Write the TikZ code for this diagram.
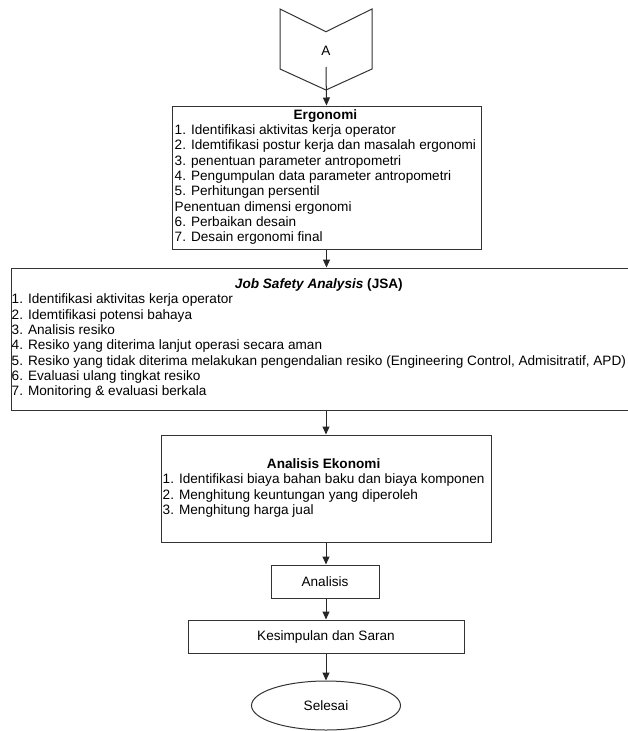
\documentclass[tikz,border=0pt]{standalone}
\usepackage{fontspec}
\setmainfont{Liberation Sans}
\usetikzlibrary{arrows.meta,shapes.geometric}
\begin{document}
\begin{tikzpicture}[x=1pt,y=-1pt,
  box/.style={draw=black!80, line width=1pt, rectangle, inner sep=0pt, fill=white},
  txt/.style={inner sep=0pt, font=\fontsize{13.6}{15.3}\selectfont, text=black},
  arr/.style={draw=black!85, line width=1pt, -{Triangle[length=8pt,width=7pt]}},
]
\useasboundingbox (0,0) rectangle (628,731);

% off-page connector
\draw[draw=black!80, line width=1pt, line join=miter]
  (280,9) -- (326,31.7) -- (372,9) -- (372,69) -- (326,90) -- (280,69) -- cycle;
\node[txt] (A) at (326,51) {A};
\coordinate (aout) at (326,67);

% Ergonomi
\node[box, minimum width=309pt, minimum height=143pt] (ergo) at (326.5,177.5) {};
\node[txt, anchor=west] (ergot) at ([xshift=3pt]ergo.west) {%
\begin{tabular}{@{}l@{}}
\multicolumn{1}{@{}c@{}}{\textbf{Ergonomi}}\\
1. Identifikasi aktivitas kerja operator\\
2. Idemtifikasi postur kerja dan masalah ergonomi\\
3. penentuan parameter antropometri\\
4. Pengumpulan data parameter antropometri\\
5. Perhitungan persentil\\
Penentuan dimensi ergonomi\\
6. Perbaikan desain\\
7. Desain ergonomi final
\end{tabular}};

% JSA
\node[box, minimum width=630pt, minimum height=142pt] (jsa) at (326,339) {};
\node[txt, anchor=west] (jsat) at ([xshift=1pt]jsa.west) {%
\begin{tabular}{@{}l@{}}
\multicolumn{1}{@{}c@{}}{\textbf{\textit{Job Safety Analysis} (JSA)}}\\
1. Identifikasi aktivitas kerja operator\\
2. Idemtifikasi potensi bahaya\\
3. Analisis resiko\\
4. Resiko yang diterima lanjut operasi secara aman\\
5. Resiko yang tidak diterima melakukan pengendalian resiko (Engineering Control, Admisitratif, APD)\\
6. Evaluasi ulang tingkat resiko\\
7. Monitoring \& evaluasi berkala
\end{tabular}};

% Analisis Ekonomi
\node[box, minimum width=330pt, minimum height=107pt] (eko) at (326,488.5) {};
\node[txt, anchor=west] (ekot) at ([xshift=2pt]eko.west) {%
\begin{tabular}{@{}l@{}}
\multicolumn{1}{@{}c@{}}{\textbf{Analisis Ekonomi}}\\
1. Identifikasi biaya bahan baku dan biaya komponen\\
2. Menghitung keuntungan yang diperoleh\\
3. Menghitung harga jual
\end{tabular}};

% Analisis
\node[box, txt, draw=black!80, line width=1pt, minimum width=108pt, minimum height=33pt] (anl) at (325,581.5) {Analisis};

% Kesimpulan
\node[box, txt, draw=black!80, line width=1pt, minimum width=276pt, minimum height=33pt] (kes) at (326,636.5) {Kesimpulan dan Saran};

% Selesai
\node[txt, ellipse, draw=black!80, line width=1pt, minimum width=149pt, minimum height=49pt] (end) at (326,705.5) {Selesai};

% connectors
\draw[arr] (aout) -- (ergo.north);
\draw[arr] (ergo.south) -- (jsa.north -| ergo.south);
\draw[arr] (jsa.south -| eko.north) -- (eko.north);
\draw[arr] (eko.south) -- (eko.south |- anl.north);
\draw[arr] (anl.south -| eko.south) -- (kes.north);
\draw[arr] (kes.south) -- (end.north);
\end{tikzpicture}
\end{document}
